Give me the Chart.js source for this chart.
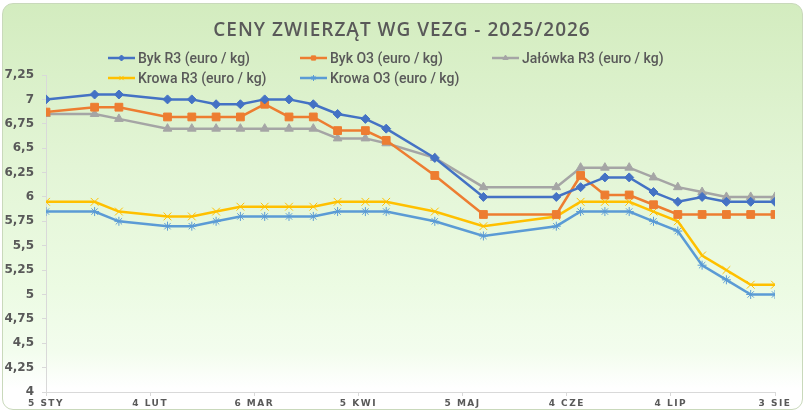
<!DOCTYPE html>
<html>
<head>
<meta charset="utf-8">
<script src="https://cdn.jsdelivr.net/npm/chart.js@4.4.1/dist/chart.umd.min.js"></script>
<style>
  html, body { margin: 0; padding: 0; background: #fff; }
  #wrap { position: relative; width: 806px; height: 414px; }
  #box {
    position: absolute; left: 2px; top: 3px; width: 799px; height: 405px;
    border: 1px solid #c9d9bb; border-radius: 11px;
    background: linear-gradient(to bottom, #d3ecbf 0%, #e3f5d6 40%, #ecfbe3 70%, #f3fdee 86%, #ffffff 95%);
  }
  canvas { position: absolute; left: 0; top: 0; }
</style>
</head>
<body>
<div id="wrap">
  <div id="box"></div>
  <canvas id="myChart" width="806" height="414"></canvas>
</div>
<script>
// notowania tygodniowe
const dates = ['2025-01-05','2025-01-19','2025-01-26','2025-02-09','2025-02-16','2025-02-23','2025-03-02',
  '2025-03-09','2025-03-16','2025-03-23','2025-03-30','2025-04-07','2025-04-13','2025-04-27','2025-05-11',
  '2025-06-01','2025-06-08','2025-06-15','2025-06-22','2025-06-29','2025-07-06','2025-07-13','2025-07-20',
  '2025-07-27','2025-08-03'];

const bykR3    = [7.00,7.05,7.05,7.00,7.00,6.95,6.95,7.00,7.00,6.95,6.85,6.80,6.70,6.40,6.00,6.00,6.10,6.20,6.20,6.05,5.95,6.00,5.95,5.95,5.95];
const bykO3    = [6.87,6.92,6.92,6.82,6.82,6.82,6.82,6.95,6.82,6.82,6.68,6.68,6.58,6.22,5.82,5.82,6.22,6.02,6.02,5.92,5.82,5.82,5.82,5.82,5.82];
const jalowkaR3 = [6.85,6.85,6.80,6.70,6.70,6.70,6.70,6.70,6.70,6.70,6.60,6.60,6.55,6.40,6.10,6.10,6.30,6.30,6.30,6.20,6.10,6.05,6.00,6.00,6.00];
const krowaR3  = [5.95,5.95,5.85,5.80,5.80,5.85,5.90,5.90,5.90,5.90,5.95,5.95,5.95,5.85,5.70,5.80,5.95,5.95,5.95,5.85,5.75,5.40,5.25,5.10,5.10];
const krowaO3  = [5.85,5.85,5.75,5.70,5.70,5.75,5.80,5.80,5.80,5.80,5.85,5.85,5.85,5.75,5.60,5.70,5.85,5.85,5.85,5.75,5.65,5.30,5.15,5.00,5.00];

const tickLabels = ['5 STY','4 LUT','6 MAR','5 KWI','5 MAJ','4 CZE','4 LIP','3 SIE'];
const seriesNames = ['Byk R3 (euro / kg)','Byk O3 (euro / kg)','Jałówka R3 (euro / kg)','Krowa R3 (euro / kg)','Krowa O3 (euro / kg)'];

const start = Date.parse(dates[0]);
const days = dates.map(d => Math.round((Date.parse(d) - start) / 86400000));
const pts = arr => days.map((x, i) => ({x: x, y: arr[i]}));

function series(i, values, color, style, radius, fill) {
    return {
        label: seriesNames[i],
        data: pts(values),
        borderColor: color,
        backgroundColor: color,
        borderWidth: 2.5,
        pointStyle: style,
        pointRadius: radius,
        pointBorderWidth: 1,
        pointBorderColor: color,
        pointBackgroundColor: fill ? color : 'rgba(0,0,0,0)',
        tension: 0
    }
}

// tytul + legenda w ukladzie kolumn jak w Excelu
const extras = {
    id: 'extras',
    afterUpdate(chart) {
        const sx = chart.scales.x;
        if (sx && !sx._spaced) {
            const orig = sx.drawLabels;
            sx.drawLabels = function (a) {
                this.ctx.save();
                this.ctx.letterSpacing = '1.5px';
                orig.call(this, a);
                this.ctx.restore();
            };
            sx._spaced = true;
        }
    },
    afterDraw(chart) {
        const ctx = chart.ctx;
        ctx.save();
        ctx.letterSpacing = '1px';
        ctx.font = '600 19px "Open Sans"';
        ctx.fillStyle = '#595959';
        ctx.textAlign = 'center';
        ctx.textBaseline = 'middle';
        ctx.fillText('CENY ZWIERZĄT WG VEZG - 2025/2026', 402, 31);
        ctx.letterSpacing = '0px';
        chart.data.datasets.forEach((ds, i) => {
            const lx = 108 + (i % 3) * 192;
            const ly = 58 + Math.floor(i / 3) * 20;
            ctx.strokeStyle = ds.borderColor;
            ctx.lineWidth = 2.5;
            ctx.beginPath();
            ctx.moveTo(lx, ly);
            ctx.lineTo(lx + 27, ly);
            ctx.stroke();
            ctx.fillStyle = ds.pointBackgroundColor;
            ctx.lineWidth = 1;
            Chart.helpers.drawPoint(ctx, {pointStyle: ds.pointStyle, radius: 3, rotation: 0, borderWidth: 1}, lx + 13.5, ly);
            ctx.fillStyle = '#595959';
            ctx.font = '500 14px Roboto';
            ctx.textAlign = 'left';
            ctx.fillText(ds.label, lx + 30, ly + 1);
        });
        ctx.restore();
    }
};

const myChart = document.getElementById('myChart').getContext('2d');
new Chart(myChart, {
    type: 'line',
    data: {
        datasets: [
            series(0, bykR3, '#4472C4', 'rectRot', 4.5, true),
            series(1, bykO3, '#ED7D31', 'rect', 5.5, true),
            series(2, jalowkaR3, '#A5A5A5', 'triangle', 5, true),
            series(3, krowaR3, '#FFC000', 'crossRot', 5.5, false),
            series(4, krowaO3, '#5B9BD5', 'star', 4.5, false)
        ]
    },
    options: {
        responsive: false,
        animation: false,
        layout: { padding: { top: 75, right: 31, left: 0, bottom: 0 } },
        plugins: {
            legend: { display: false },
            title: { display: false },
            tooltip: { enabled: false }
        },
        scales: {
            x: {
                type: 'linear',
                min: 0,
                max: 210,
                afterFit: s => { s.height = 22; },
                ticks: {
                    stepSize: 30,
                    autoSkip: false,
                    maxRotation: 0,
                    padding: 2,
                    color: '#595959',
                    font: { family: 'DejaVu Sans', size: 9, weight: 'bold' },
                    callback: v => tickLabels[Math.round(v / 30)]
                },
                grid: { drawOnChartArea: false, tickLength: 4, color: '#d9d9d9' },
                border: { color: '#d9d9d9' }
            },
            y: {
                min: 4,
                max: 7.25,
                afterFit: s => { s.width = 46; },
                ticks: {
                    stepSize: 0.25,
                    padding: 8,
                    color: '#595959',
                    font: { family: 'DejaVu Sans', size: 12, weight: 'bold' },
                    callback: v => String(v).replace('.', ',')
                },
                grid: { drawOnChartArea: false, tickLength: 4, color: '#d9d9d9' },
                border: { color: '#d9d9d9' }
            }
        }
    },
    plugins: [extras]
});
</script>
</body>
</html>
